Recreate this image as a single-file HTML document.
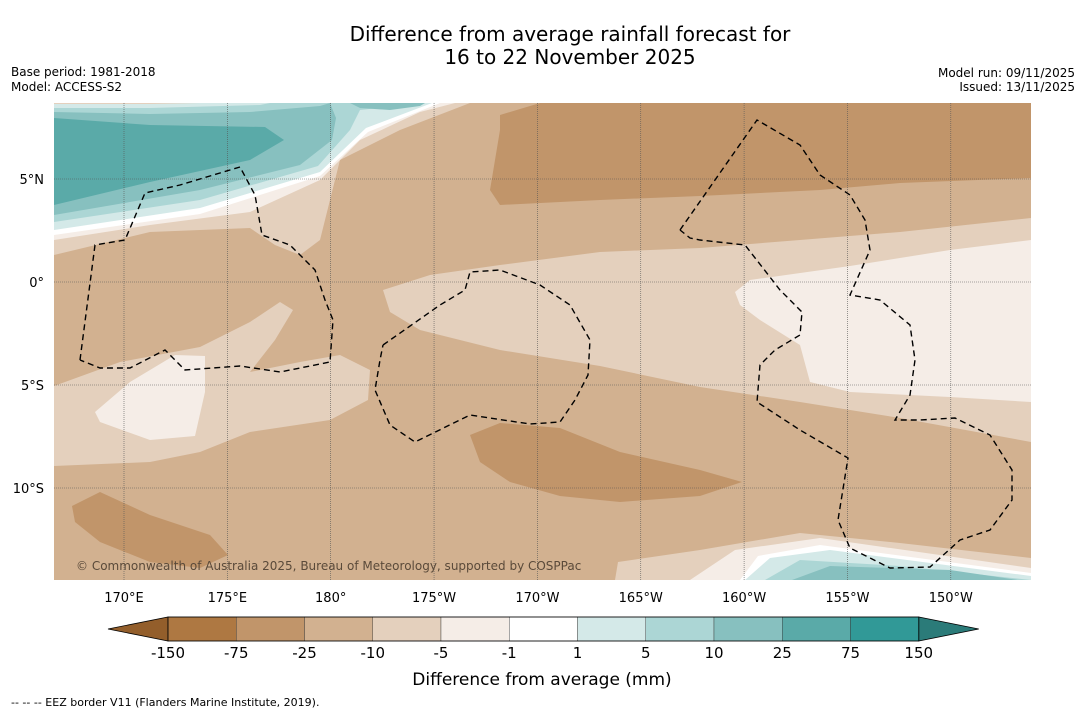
<!DOCTYPE html>
<html><head><meta charset="utf-8"><style>
body{margin:0;background:#fff;width:1085px;height:713px;overflow:hidden;font-family:"DejaVu Sans","Liberation Sans",sans-serif}
</style></head><body>
<svg id="chart" width="1085" height="713" xmlns="http://www.w3.org/2000/svg" font-family="DejaVu Sans, Liberation Sans, sans-serif">
<text x="570" y="41" text-anchor="middle" font-size="20">Difference from average rainfall forecast for</text>
<text x="570" y="64" text-anchor="middle" font-size="20">16 to 22 November 2025</text>
<text x="11" y="76" font-size="12">Base period: 1981-2018</text>
<text x="11" y="91" font-size="12">Model: ACCESS-S2</text>
<text x="1075" y="77" font-size="12" text-anchor="end">Model run: 09/11/2025</text>
<text x="1075" y="91" font-size="12" text-anchor="end">Issued: 13/11/2025</text>
<defs><clipPath id="mc"><rect x="54" y="103" width="977" height="477"/></clipPath></defs>
<g id="map" clip-path="url(#mc)"></g>
<g id="axes"></g>
<g id="cbar"></g>
<text x="542" y="685" text-anchor="middle" font-size="17">Difference from average (mm)</text>
<text x="11" y="706" font-size="11">--  --  -- EEZ border V11 (Flanders Marine Institute, 2019).</text>
</svg>
<script>
const NS='http://www.w3.org/2000/svg';
const levels=['-150','-75','-25','-10','-5','-1','1','5','10','25','75','150'];
const levelColors=['#ae7842','#c1956a','#d2b190','#e4d0bd','#f5ede7','#ffffff','#d4e9e8','#acd6d5','#87c0bf','#5aaaa8','#319997'];
const lowColor='#935e2b', highColor='#2b7b79';
const lonTicks=[170,175,180,185,190,195,200,205,210];
const lonLabels=['170°E','175°E','180°','175°W','170°W','165°W','160°W','155°W','150°W'];
const latTicks=[5,0,-5,-10];
const latLabels=['5°N','0°','5°S','10°S'];
// contour regions: [colorIndex, [[lon,lat],...]] (lon 0-360)
function P(pts){return pts.map(p=>[170+(p[0]-124)/20.67,(282-p[1])/20.6]);}
const regions=[
[3,P([[54,255],[150,232],[250,228],[275,245],[300,255],[320,240],[340,160],[400,130],[470,103],[54,103]])],
[4,P([[54,240],[150,225],[250,212],[320,180],[360,140],[420,112],[455,103],[54,103]])],
[5,P([[54,235],[200,214],[320,176],[368,132],[440,103],[54,103]])],
[6,P([[54,230],[200,208],[320,172],[366,128],[432,103],[54,103]])],
[7,P([[54,222],[200,200],[318,166],[350,130],[360,110],[425,103],[54,103]])],
[8,P([[54,215],[200,190],[300,165],[332,140],[336,118],[330,103],[54,103]])],
[8,P([[350,103],[360,108],[390,110],[420,106],[425,103]])],
[9,P([[54,205],[150,182],[250,160],[284,140],[265,127],[150,125],[54,118]])],
[7,P([[54,112],[150,114],[250,112],[320,106],[330,103],[54,103]])],
[6,P([[54,108],[150,108],[260,105],[270,103],[54,103]])],
[3,P([[54,104],[150,104],[200,103],[54,103]])],
[1,P([[500,115],[540,103],[1031,103],[1031,178],[900,183],[820,190],[700,196],[600,200],[500,205],[490,190],[495,160],[500,130]])],
[3,P([[383,290],[430,275],[500,265],[600,252],[700,248],[800,240],[900,232],[1031,218],[1031,442],[900,418],[800,402],[700,387],[600,366],[500,350],[420,330],[390,312]])],
[4,P([[735,292],[750,280],[850,266],[950,250],[1031,240],[1031,402],[950,397],[850,392],[810,382],[800,345],[760,320],[740,305]])],
[3,P([[54,386],[120,362],[200,347],[250,322],[280,302],[293,310],[275,340],[250,372],[300,362],[340,355],[370,370],[368,400],[330,420],[250,432],[200,452],[150,462],[54,466]])],
[4,P([[95,412],[130,382],[175,355],[205,356],[205,392],[195,436],[150,440],[100,422]])],
[1,P([[470,435],[500,423],[560,428],[620,452],[700,470],[742,482],[700,496],[620,502],[560,496],[510,482],[480,462]])],
[1,P([[72,506],[100,492],[150,515],[210,535],[228,555],[200,568],[150,562],[100,542],[75,522]])],
[3,P([[615,580],[618,562],[700,550],[800,533],[900,543],[1031,558],[1031,580]])],
[4,P([[690,580],[735,550],[820,538],[1031,568],[1031,580]])],
[5,P([[740,580],[758,556],[820,545],[1031,573],[1031,580]])],
[6,P([[745,580],[770,558],[830,550],[1031,576],[1031,580]])],
[7,P([[765,580],[800,560],[900,566],[1031,580]])],
[8,P([[792,580],[830,566],[950,570],[1031,582]])]
];
const eez=[
P([[80,360],[95,245],[125,240],[145,193],[180,185],[240,167],[255,195],[262,235],[290,245],[315,270],[325,300],[333,320],[330,362],[280,372],[240,366],[185,370],[165,350],[130,368],[100,368],[80,360]]),
P([[383,345],[440,305],[465,290],[470,272],[500,270],[540,285],[570,305],[590,340],[588,375],[575,400],[560,422],[530,424],[470,415],[415,442],[390,425],[375,390],[380,360],[383,345]]),
P([[680,230],[757,120],[800,145],[820,175],[850,195],[865,220],[870,250],[850,295],[880,300],[910,325],[915,360],[910,395],[895,420],[920,420],[955,418],[990,435],[1012,470],[1012,500],[990,530],[960,540],[930,567],[890,568],[850,548],[838,520],[848,458],[800,430],[757,402],[760,365],[775,350],[800,335],[802,312],[780,290],[745,245],[700,240],[690,238],[680,230]])
];
const X=lon=>124+(lon-170)*20.67, Y=lat=>282-lat*20.6;
function el(tag,attrs,parent){const e=document.createElementNS(NS,tag);for(const k in attrs)e.setAttribute(k,attrs[k]);parent.appendChild(e);return e;}
const map=document.getElementById('map');
const bg=el('rect',{x:54,y:103,width:977,height:477,fill:levelColors[2]},map);


regions.forEach((r,i)=>{
 const p=el('polygon',{points:r[1].map(q=>X(q[0]).toFixed(1)+','+Y(q[1]).toFixed(1)).join(' '),fill:levelColors[r[0]]},map);
 
 
});
lonTicks.forEach(l=>{const g=el('line',{x1:X(l),x2:X(l),y1:103,y2:580,stroke:'#555','stroke-width':0.6,'stroke-dasharray':'1 1'},map);
 });
latTicks.forEach(l=>{const g=el('line',{x1:54,x2:1031,y1:Y(l),y2:Y(l),stroke:'#555','stroke-width':0.6,'stroke-dasharray':'1 1'},map);
 });
eez.forEach(pts=>{const e=el('polyline',{points:pts.map(q=>X(q[0]).toFixed(1)+','+Y(q[1]).toFixed(1)).join(' '),fill:'none',stroke:'#000','stroke-width':1.4,'stroke-dasharray':'6 4'},map);
 });
const cr=el('text',{x:76,y:570,'font-size':12,fill:'#5a4a3a'},map);cr.textContent='© Commonwealth of Australia 2025, Bureau of Meteorology, supported by COSPPac';

const axes=document.getElementById('axes');
lonTicks.forEach((l,i)=>{const t=el('text',{x:X(l),y:602,'text-anchor':'middle','font-size':13},axes);t.textContent=lonLabels[i];
 });
latTicks.forEach((l,i)=>{const t=el('text',{x:44,y:Y(l)+5,'text-anchor':'end','font-size':13},axes);t.textContent=latLabels[i];
 });
const cb=document.getElementById('cbar');
const cx0=168,cw=68.25,cy=617,ch=24;
const lt=el('polygon',{points:`108,${cy+ch/2} ${cx0},${cy} ${cx0},${cy+ch}`,fill:lowColor,stroke:'#000','stroke-width':0.8},cb);

const xe=cx0+cw*levelColors.length;
const rt=el('polygon',{points:`${xe+60},${cy+ch/2} ${xe},${cy} ${xe},${cy+ch}`,fill:highColor,stroke:'#000','stroke-width':0.8},cb);

levelColors.forEach((c,i)=>{const r=el('rect',{x:cx0+i*cw,y:cy,width:cw,height:ch,fill:c,stroke:'#333','stroke-width':0.4},cb);
 });
const ol=el('rect',{x:cx0,y:cy,width:xe-cx0,height:ch,fill:'none',stroke:'#000','stroke-width':0.8},cb);

levels.forEach((v,i)=>{const t=el('text',{x:cx0+i*cw,y:658,'text-anchor':'middle','font-size':15},cb);t.textContent=v;
 });
</script>
</body></html>
